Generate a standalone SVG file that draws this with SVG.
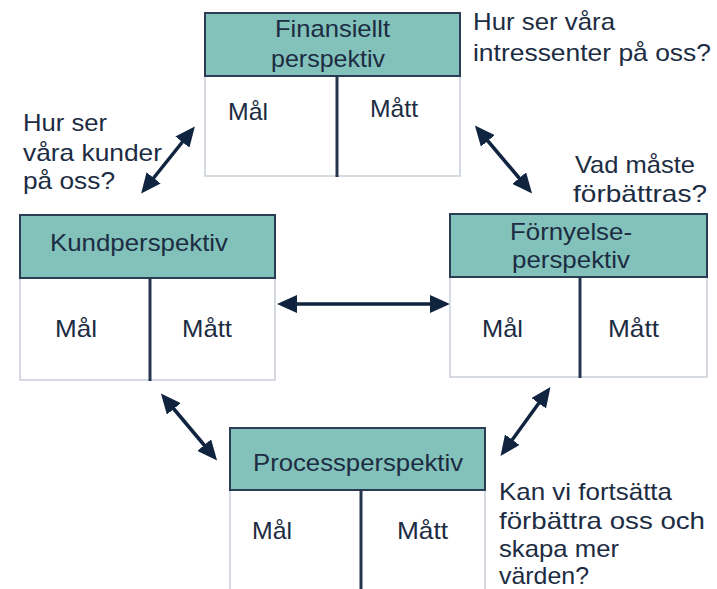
<svg xmlns="http://www.w3.org/2000/svg" width="717" height="589" viewBox="0 0 717 589">
<defs>
<style>
text{font-family:"Liberation Sans",Arial,sans-serif;font-size:24px;fill:#1c2c42}
.hdr{fill:#83c2bb;stroke:#2a3d55;stroke-width:2}
.body{fill:#ffffff;stroke:#c9ced8;stroke-width:1.5}
.div{stroke:#24364e;stroke-width:3}
.arr{stroke:#10233f;stroke-width:3.5;fill:none;marker-start:url(#ah);marker-end:url(#ah)}
</style>
<marker id="ah" viewBox="0 0 20 18" markerWidth="20" markerHeight="18" refX="9" refY="9" orient="auto-start-reverse" markerUnits="userSpaceOnUse">
<path d="M0,0 L20,9 L0,18 z" fill="#10233f"/>
</marker>
</defs>
<rect width="717" height="589" fill="#ffffff"/>

<g id="connectors">
<line class="arr" x1="188" y1="135" x2="148" y2="185"/>
<line class="arr" x1="482" y1="134" x2="525" y2="185"/>
<line class="arr" x1="288" y1="304" x2="439" y2="304"/>
<line class="arr" x1="168" y1="402" x2="210" y2="452"/>
<line class="arr" x1="544" y1="396" x2="507" y2="447"/>
</g>

<g id="finansiellt">
<rect class="body" x="205" y="76" width="255" height="100"/>
<rect class="hdr" x="205" y="13" width="255" height="63"/>
<line class="div" x1="337" y1="76" x2="337" y2="177"/>
<text x="275" y="37" textLength="115" lengthAdjust="spacingAndGlyphs">Finansiellt</text>
<text x="271" y="67" textLength="114" lengthAdjust="spacingAndGlyphs">perspektiv</text>
<text x="228" y="120" textLength="40" lengthAdjust="spacingAndGlyphs">Mål</text>
<text x="370" y="117" textLength="48" lengthAdjust="spacingAndGlyphs">Mått</text>
</g>

<g id="q-finansiellt">
<text x="473" y="30" textLength="142" lengthAdjust="spacingAndGlyphs">Hur ser våra</text>
<text x="473" y="61" textLength="238" lengthAdjust="spacingAndGlyphs">intressenter på oss?</text>
</g>

<g id="q-kund">
<text x="23" y="131" textLength="84" lengthAdjust="spacingAndGlyphs">Hur ser</text>
<text x="23" y="161" textLength="139" lengthAdjust="spacingAndGlyphs">våra kunder</text>
<text x="23" y="189" textLength="92" lengthAdjust="spacingAndGlyphs">på oss?</text>
</g>

<g id="q-fornyelse">
<text x="575" y="173" textLength="120" lengthAdjust="spacingAndGlyphs">Vad måste</text>
<text x="573" y="202" textLength="134" lengthAdjust="spacingAndGlyphs">förbättras?</text>
</g>

<g id="kund">
<rect class="body" x="20" y="278" width="255" height="102"/>
<rect class="hdr" x="20" y="215" width="255" height="63"/>
<line class="div" x1="150" y1="278" x2="150" y2="381"/>
<text x="50" y="251" textLength="178" lengthAdjust="spacingAndGlyphs">Kundperspektiv</text>
<text x="55" y="337" textLength="42" lengthAdjust="spacingAndGlyphs">Mål</text>
<text x="182" y="337" textLength="50" lengthAdjust="spacingAndGlyphs">Mått</text>
</g>

<g id="fornyelse">
<rect class="body" x="450" y="277" width="257" height="100"/>
<rect class="hdr" x="450" y="214" width="257" height="63"/>
<line class="div" x1="580" y1="277" x2="580" y2="378"/>
<text x="510" y="240" textLength="122" lengthAdjust="spacingAndGlyphs">Förnyelse-</text>
<text x="512" y="268" textLength="118" lengthAdjust="spacingAndGlyphs">perspektiv</text>
<text x="482" y="337" textLength="41" lengthAdjust="spacingAndGlyphs">Mål</text>
<text x="608" y="337" textLength="51" lengthAdjust="spacingAndGlyphs">Mått</text>
</g>

<g id="process">
<rect class="body" x="230" y="490" width="255" height="120"/>
<rect class="hdr" x="230" y="428" width="255" height="62"/>
<line class="div" x1="361" y1="490" x2="361" y2="589"/>
<text x="253" y="471" textLength="210" lengthAdjust="spacingAndGlyphs">Processperspektiv</text>
<text x="252" y="539" textLength="40" lengthAdjust="spacingAndGlyphs">Mål</text>
<text x="397" y="539" textLength="51" lengthAdjust="spacingAndGlyphs">Mått</text>
</g>

<g id="q-process">
<text x="499" y="500" textLength="173" lengthAdjust="spacingAndGlyphs">Kan vi fortsätta</text>
<text x="499" y="529" textLength="206" lengthAdjust="spacingAndGlyphs">förbättra oss och</text>
<text x="499" y="557" textLength="120" lengthAdjust="spacingAndGlyphs">skapa mer</text>
<text x="499" y="584" textLength="90" lengthAdjust="spacingAndGlyphs">värden?</text>
</g>
</svg>
